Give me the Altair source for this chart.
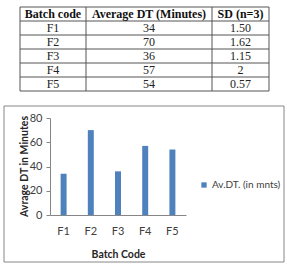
import altair as alt
import pandas as pd

# ---- data ----
batches = ["F1", "F2", "F3", "F4", "F5"]
avg_dt = [34, 70, 36, 57, 54]
sd_text = ["1.50", "1.62", "1.15", "2", "0.57"]
headers = ["Batch code", "Average DT (Minutes)", "SD (n=3)"]
series_name = "Av.DT. (in mnts)"

# ---- table layout (table units: column edges and row count) ----
col_edges = [0, 66, 192, 249]
n_rows = len(batches) + 1

def col_center(i):
    return (col_edges[i] + col_edges[i + 1]) / 2

header_df = pd.DataFrame(
    {"cx": [col_center(i) for i in range(3)], "cy": [0.5] * 3, "text": headers}
)
body_rows = []
for r, (b, v, s) in enumerate(zip(batches, avg_dt, sd_text), start=1):
    for i, t in enumerate([b, str(v), s]):
        body_rows.append({"cx": col_center(i), "cy": r + 0.5, "text": t})
body_df = pd.DataFrame(body_rows)

vlines = pd.DataFrame({"x": col_edges, "y": 0, "y2": n_rows})
hlines = pd.DataFrame({"y": list(range(n_rows + 1)), "x": 0, "x2": col_edges[-1]})

# table scales placed above the plot area (relative to plot origin)
tx = alt.Scale(domain=[0, col_edges[-1]], range=[-30, 219], nice=False, zero=False)
ty = alt.Scale(domain=[0, n_rows], range=[-111, -27], nice=False, zero=False)

line_color = "#555555"

table_v = alt.Chart(vlines).mark_rule(color=line_color, strokeWidth=1).encode(
    x=alt.X("x:Q", scale=tx, axis=None),
    y=alt.Y("y:Q", scale=ty, axis=None),
    y2="y2:Q",
)
table_h = alt.Chart(hlines).mark_rule(color=line_color, strokeWidth=1).encode(
    y=alt.Y("y:Q", scale=ty, axis=None),
    x=alt.X("x:Q", scale=tx, axis=None),
    x2="x2:Q",
)
table_head = alt.Chart(header_df).mark_text(
    font="Liberation Serif", fontSize=12, fontWeight="bold", color="#111111",
    baseline="middle", align="center",
).encode(
    x=alt.X("cx:Q", scale=tx, axis=None),
    y=alt.Y("cy:Q", scale=ty, axis=None),
    text="text:N",
)
table_body = alt.Chart(body_df).mark_text(
    font="Liberation Serif", fontSize=12, color="#222222",
    baseline="middle", align="center",
).encode(
    x=alt.X("cx:Q", scale=tx, axis=None),
    y=alt.Y("cy:Q", scale=ty, axis=None),
    text="text:N",
)

# ---- bar chart ----
bars_df = pd.DataFrame({"batch": batches, "value": avg_dt, "series": series_name})

frame = alt.Chart(pd.DataFrame({"k": [0]})).mark_rect(
    fill=None, stroke="#868686", strokeWidth=1
).encode(
    x=alt.value(-46), x2=alt.value(234), y=alt.value(-12), y2=alt.value(144)
)

bars = alt.Chart(bars_df).mark_bar().encode(
    x=alt.X(
        "batch:N",
        sort=batches,
        scale=alt.Scale(paddingInner=0.78, paddingOuter=0.39),
        axis=alt.Axis(
            title="Batch Code",
            labelAngle=0,
            ticks=False,
            domainColor="#868686",
            labelFont="Lato",
            labelFontSize=11,
            labelColor="#404040",
            labelPadding=10,
            titleFont="Lato",
            titleFontSize=10.5,
            titleFontWeight="bold",
            titleColor="#262626",
            titleX=68,
            titleY=39,
            titleBaseline="middle",
        ),
    ),
    y=alt.Y(
        "value:Q",
        scale=alt.Scale(domain=[0, 80], nice=False),
        axis=alt.Axis(
            title="Avrage DT in Minutes",
            values=[0, 20, 40, 60, 80],
            grid=False,
            tickSize=4,
            tickColor="#868686",
            domainColor="#868686",
            labelFont="Lato",
            labelFontSize=11,
            labelColor="#404040",
            labelPadding=4,
            titleFont="Lato",
            titleFontSize=10.5,
            titleFontWeight="bold",
            titleColor="#262626",
            titleAngle=-90,
            titleX=-26,
            titleY=48,
            titleAlign="center",
            titleBaseline="middle",
        ),
    ),
    color=alt.Color(
        "series:N",
        scale=alt.Scale(range=["#4F81BD"]),
        legend=alt.Legend(
            title=None,
            orient="none",
            legendX=149,
            legendY=62,
            symbolType="square",
            symbolSize=28,
            symbolStrokeWidth=0,
            labelFont="Lato",
            labelFontSize=10,
            labelColor="#404040",
            labelOffset=3,
            padding=0,
        ),
    ),
)

chart = (
    alt.layer(frame, bars, table_v, table_h, table_head, table_body)
    .resolve_scale(x="independent", y="independent")
    .properties(
        width=136,
        height=97,
        autosize=alt.AutoSizeParams(type="none"),
        padding={"left": 50, "top": 118, "right": 101, "bottom": 53},
        background="white",
    )
    .configure_view(stroke=None)
)

chart.save("out.html", embed_options={"renderer": "svg", "actions": False})
